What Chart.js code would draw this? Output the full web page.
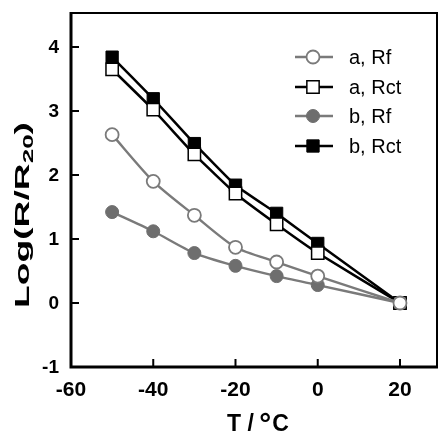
<!DOCTYPE html>
<html><head><meta charset="utf-8">
<style>html,body{margin:0;padding:0;background:#fff}#w{width:440px;height:433px}</style>
<script src="https://cdn.jsdelivr.net/npm/chart.js@4/dist/chart.umd.min.js"></script>
</head><body><div id="w"><canvas id="c" width="440" height="433"></canvas></div>
<script>
const temps = [-50, -40, -30, -20, -10, 0, 20];
const aRf  = [2.63, 1.90, 1.37, 0.87, 0.64, 0.42, 0];
const aRct = [3.65, 3.02, 2.32, 1.71, 1.23, 0.78, 0];
const bRf  = [1.42, 1.12, 0.78, 0.58, 0.42, 0.28, 0];
const bRct = [3.84, 3.19, 2.49, 1.84, 1.40, 0.93, 0];
const xTicks = [-60, -40, -20, 0, 20];
const yTicks = [-1, 0, 1, 2, 3, 4];
const labels = ['a, Rf', 'a, Rct', 'b, Rf', 'b, Rct'];

const GRAY = '#7a7a7a';
function pts(v){ return temps.map((t,i)=>({x:t,y:v[i]})); }
const ds = [
  {label:labels[0], data:pts(aRf), borderColor:GRAY, borderWidth:2.4, pointStyle:'circle', pointRadius:6.5, pointBackgroundColor:'#fff', pointBorderColor:GRAY, pointBorderWidth:1.8, tension:0.25},
  {label:labels[1], data:pts(aRct), borderColor:'#000', borderWidth:2.5, pointStyle:'rect', pointRadius:8.7, pointBackgroundColor:'#fff', pointBorderColor:'#000', pointBorderWidth:1.5, tension:0.1},
  {label:labels[2], data:pts(bRf), borderColor:GRAY, borderWidth:2.4, pointStyle:'circle', pointRadius:6.5, pointBackgroundColor:'#6e6e6e', pointBorderColor:'#6e6e6e', pointBorderWidth:1, tension:0.25},
  {label:labels[3], data:pts(bRct), borderColor:'#000', borderWidth:2.5, pointStyle:'rect', pointRadius:8.7, pointBackgroundColor:'#000', pointBorderColor:'#000', pointBorderWidth:1, tension:0.1}
];
ds.forEach(d=>{d.fill=false; d.clip=false;});

const FONT = '"Liberation Sans", Arial, sans-serif';

const deco = {
  id:'deco',
  afterDraw(chart){
    const ctx = chart.ctx, a = chart.chartArea;
    const xs = chart.scales.x, ys = chart.scales.y;
    ctx.save();
    ctx.strokeStyle = '#000';
    // frame
    ctx.lineWidth = 2;
    ctx.beginPath();
    ctx.moveTo(a.left, a.top); ctx.lineTo(a.right, a.top); ctx.lineTo(a.right, a.bottom);
    ctx.stroke();
    ctx.lineWidth = 3;
    ctx.beginPath();
    ctx.moveTo(a.left, a.top-1); ctx.lineTo(a.left, a.bottom); ctx.lineTo(a.right+1, a.bottom);
    ctx.stroke();
    // inward ticks
    ctx.lineWidth = 2;
    ctx.beginPath();
    xTicks.forEach(v=>{const px = xs.getPixelForValue(v); ctx.moveTo(px, a.bottom); ctx.lineTo(px, a.bottom-8);});
    yTicks.forEach(v=>{const py = ys.getPixelForValue(v); ctx.moveTo(a.left, py); ctx.lineTo(a.left+8, py);});
    ctx.stroke();
    // y tick labels
    ctx.fillStyle = '#000';
    ctx.font = 'bold 19px ' + FONT;
    ctx.textAlign = 'right'; ctx.textBaseline = 'middle';
    yTicks.forEach(v=>{ ctx.fillText(String(v), a.left - 12, ys.getPixelForValue(v) + 1); });
    // x title: T / °C
    ctx.textBaseline = 'alphabetic'; ctx.textAlign = 'left';
    const t1 = 'T / ', t2 = '°', t3 = 'C';
    ctx.font = 'bold 23px ' + FONT; const u1 = ctx.measureText(t1).width, u3 = ctx.measureText(t3).width;
    ctx.font = 'bold 30px ' + FONT; const u2 = ctx.measureText(t2).width;
    let xx = 258 - (u1+u2+u3)/2;
    const by = 431;
    ctx.font = 'bold 23px ' + FONT; ctx.fillText(t1, xx, by);
    ctx.font = 'bold 30px ' + FONT; ctx.fillText(t2, xx+u1-1, by+3);
    ctx.font = 'bold 23px ' + FONT; ctx.fillText(t3, xx+u1+u2, by);
    // y title with subscript (stretched along its length like the reference)
    ctx.save();
    ctx.translate(22, 215);
    ctx.rotate(-Math.PI/2);
    const p1 = 'Log(R/R', sub = '20', p2 = ')';
    ctx.font = 'bold 20px ' + FONT; const w1 = ctx.measureText(p1).width, w3 = ctx.measureText(p2).width;
    ctx.font = 'bold 14px ' + FONT; const w2 = ctx.measureText(sub).width;
    const tot = w1+w2+w3;
    ctx.scale(186/tot, 1);
    let x0 = -tot/2;
    ctx.font = 'bold 20px ' + FONT; ctx.fillText(p1, x0, 7);
    ctx.font = 'bold 14px ' + FONT; ctx.fillText(sub, x0+w1, 11);
    ctx.font = 'bold 20px ' + FONT; ctx.fillText(p2, x0+w1+w2, 7);
    ctx.restore();
    // legend
    const ly = [57, 87, 116, 146];
    ds.forEach((d,i)=>{
      const y = ly[i];
      ctx.strokeStyle = d.borderColor; ctx.lineWidth = d.borderWidth;
      ctx.beginPath(); ctx.moveTo(295, y); ctx.lineTo(333, y); ctx.stroke();
      ctx.fillStyle = d.pointBackgroundColor; ctx.strokeStyle = d.pointBorderColor; ctx.lineWidth = d.pointBorderWidth;
      ctx.beginPath();
      if (d.pointStyle==='circle') ctx.arc(313, y, d.pointRadius, 0, Math.PI*2);
      else { const s = d.pointRadius*Math.SQRT1_2; ctx.rect(313-s, y-s, 2*s, 2*s); }
      ctx.fill(); ctx.stroke();
      ctx.fillStyle = '#000'; ctx.font = '20px ' + FONT;
      ctx.textAlign = 'left'; ctx.textBaseline = 'middle';
      ctx.fillText(d.label, 349, y+1);
    });
    ctx.restore();
  }
};

new Chart(document.getElementById('c'), {
  type:'line',
  data:{datasets:ds},
  options:{
    responsive:false, animation:false,
    layout:{autoPadding:false, padding:{top:13, right:3, left:0, bottom:0}},
    plugins:{legend:{display:false}, tooltip:{enabled:false}},
    scales:{
      x:{type:'linear', min:-60, max:29,
         afterBuildTicks(s){ s.ticks = xTicks.map(v=>({value:v})); },
         afterFit(s){ s.height = 66; },
         grid:{display:false, drawTicks:false}, border:{display:false},
         ticks:{padding:11, color:'#000', font:{family:FONT, size:21, weight:'bold'}, maxRotation:0}},
      y:{type:'linear', min:-1, max:4.53,
         afterBuildTicks(s){ s.ticks = yTicks.map(v=>({value:v})); },
         afterFit(s){ s.width = 71; },
         grid:{display:false, drawTicks:false}, border:{display:false},
         ticks:{display:false}}
    }
  },
  plugins:[deco]
});
</script></body></html>
